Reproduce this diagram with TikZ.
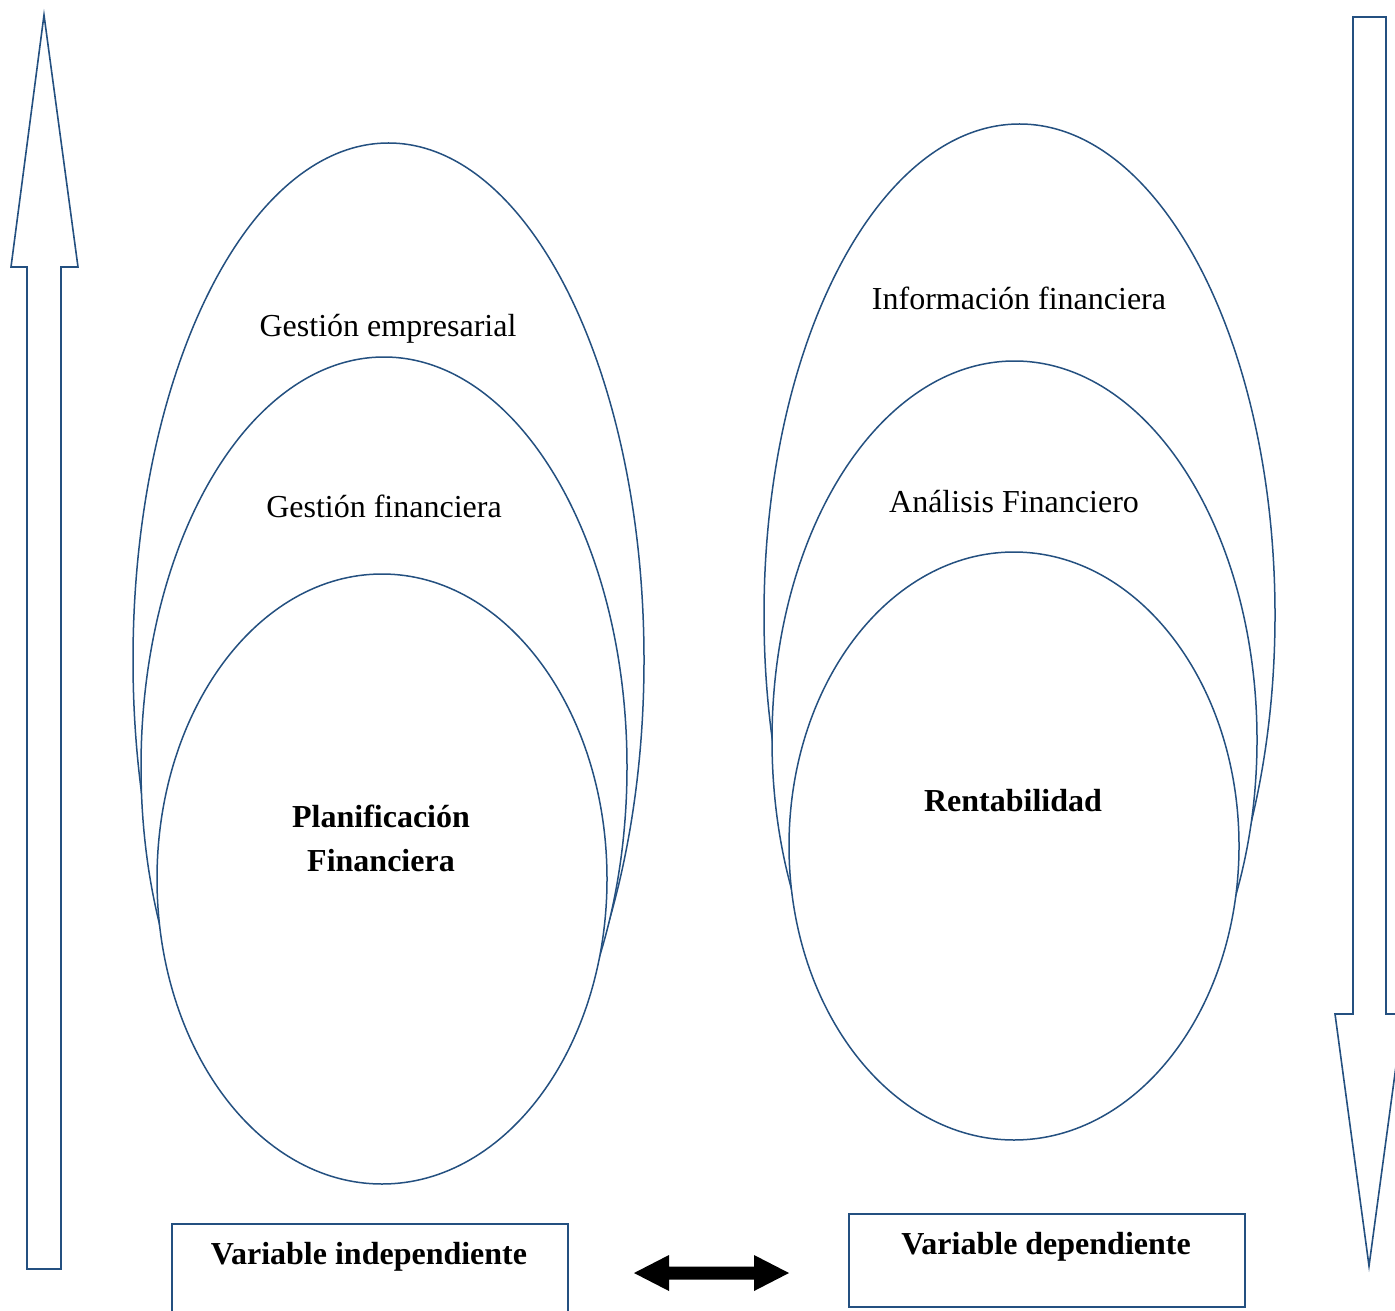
\documentclass[tikz,border=0pt]{standalone}
\usepackage{fontspec}
\setmainfont{Liberation Serif}
\usetikzlibrary{shapes.geometric}
\definecolor{edge}{RGB}{36,80,128}
\begin{document}
\begin{tikzpicture}[x=0.5pt,y=-0.5pt,
  ring/.style={draw=edge, line width=0.75pt, fill=white, ellipse, inner sep=0pt, outer sep=0pt},
  blockarrow/.style={draw=edge, line width=0.8pt, fill=white, line join=miter},
  txt/.style={font=\fontsize{16}{22}\selectfont, anchor=base, inner sep=0pt},
  strong/.style={txt, font=\fontsize{16}{22}\selectfont\bfseries},
  varbox/.style={draw=edge, line width=0.8pt, fill=white, rectangle, inner sep=0pt, anchor=north west}]
\useasboundingbox (0,0) rectangle (1395,1310);
\clip (0,0) rectangle (1395,1310);

% upward block arrow on the left
\path[blockarrow] (44,15) -- (78,267) -- (61,267) -- (61,1269) -- (27,1269) -- (27,267) -- (11,267) -- cycle;
% downward block arrow on the right
\path[blockarrow] (1369,1266) -- (1403,1014) -- (1386,1014) -- (1386,17) -- (1353,17) -- (1353,1014) -- (1335,1014) -- cycle;

% nested ellipses, independent variable
\node[ring, minimum width=255.5pt, minimum height=517pt] (empresa) at (388.5,660) {};
\node[ring, minimum width=243pt, minimum height=410pt] (gestfin) at (384,767) {};
\node[ring, minimum width=225pt, minimum height=305pt] (planif) at (382,879) {};

% nested ellipses, dependent variable
\node[ring, minimum width=255.5pt, minimum height=491pt] (infofin) at (1019.5,615) {};
\node[ring, minimum width=242.5pt, minimum height=379pt] (analisis) at (1014.5,740) {};
\node[ring, minimum width=225pt, minimum height=294pt] (rentab) at (1014,846) {};

% ellipse labels
\node[txt] (tEmp) at (388,336) {Gestión empresarial};
\node[txt] (tGes) at (384,517) {Gestión financiera};
\node[strong] (tPla1) at (381,827) {Planificación};
\node[strong] (tPla2) at (381,871) {Financiera};
\node[txt] (tInf) at (1019,310) {Información financiera};
\node[txt] (tAna) at (1014,512) {Análisis Financiero};
\node[strong] (tRen) at (1013,811) {Rentabilidad};

% variable boxes
\node[varbox, minimum width=198pt, minimum height=50pt] (vind) at (171,1223) {};
\node[varbox, minimum width=198pt, minimum height=46.5pt] (vdep) at (848,1213) {};
\node[strong] (tInd) at (369,1264) {Variable independiente};
\node[strong] (tDep) at (1046,1254) {Variable dependiente};

% two-headed arrow between the boxes
\fill[black] (634,1273) -- (669,1255) -- (669,1266.5) -- (754,1266.5) -- (754,1255) -- (789,1273)
  -- (754,1291) -- (754,1279.5) -- (669,1279.5) -- (669,1291) -- cycle;
\end{tikzpicture}
\end{document}
